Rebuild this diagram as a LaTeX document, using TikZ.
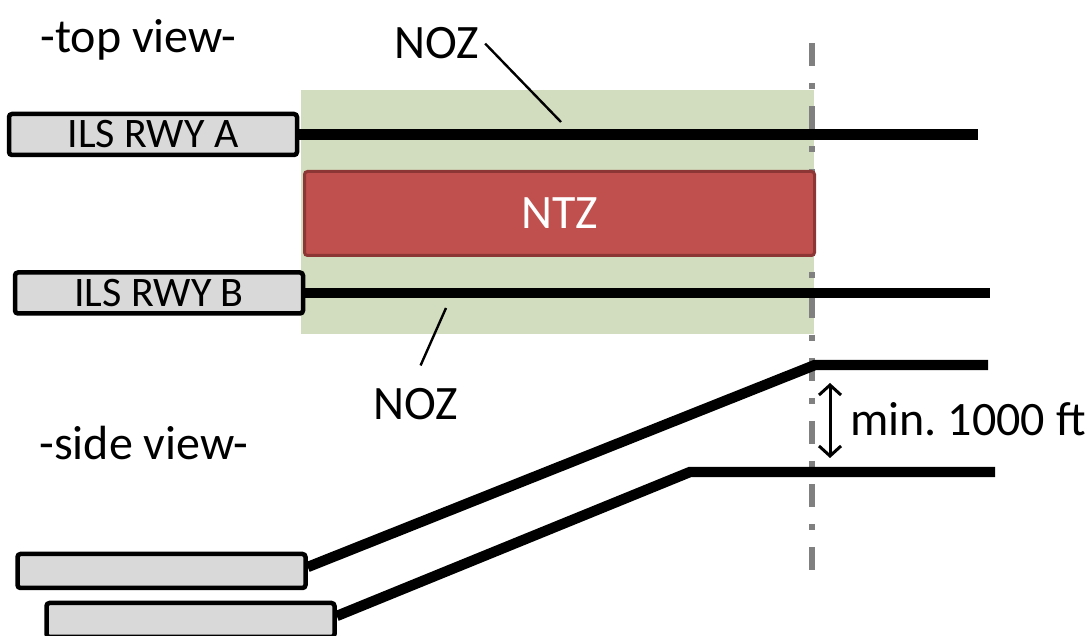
\documentclass[tikz,border=0pt]{standalone}
\usepackage{fontspec}
\setmainfont{Carlito}
\frenchspacing
\usetikzlibrary{arrows.meta,positioning}
\definecolor{cGray}{RGB}{217,217,217}
\definecolor{cNoz}{RGB}{210,220,190}
\definecolor{cNtz}{RGB}{192,80,77}
\definecolor{cNtzLine}{RGB}{140,55,53}
\definecolor{cThr}{RGB}{128,128,128}
\tikzset{
  ilsbox/.style={rectangle,rounded corners=1.5pt,draw=black,line width=2.25pt,
                 fill=cGray,minimum width=144pt,minimum height=20.5pt,
                 inner sep=0pt,font=\fontsize{21}{24}\selectfont},
  sidebox/.style={ilsbox,minimum height=17pt},
  ntzbox/.style={rectangle,rounded corners=1.5pt,draw=cNtzLine,line width=1.5pt,
                 fill=cNtz,minimum width=255pt,minimum height=42pt,
                 text=white,font=\fontsize{24}{28}\selectfont},
  nozarea/.style={rectangle,fill=cNoz,minimum width=256.5pt,
                  minimum height=122pt,inner sep=0pt},
  lbl/.style={inner sep=0pt,anchor=base west,font=\fontsize{24}{28}\selectfont},
  rwy/.style={line width=5.2pt},
  leader/.style={line width=1.2pt},
  thrline/.style={draw=cThr,line width=3pt,
                  dash pattern=on 11.5pt off 8.5pt on 3pt off 8.5pt},
  gaparr/.style={<->,>={Straight Barb[length=5pt,width=11pt]},line width=1.5pt}
}
\begin{document}
\begin{tikzpicture}[x=0.5pt,y=-0.5pt]
  \useasboundingbox (0,0) rectangle (1089,636);
  % top view
  \node[nozarea] (noz) at (557.5,212) {};
  \coordinate (thrTop) at (812,43);
  \coordinate (thrBot) at (812,571);
  \draw[thrline] (thrTop) -- (thrBot);
  \node[ntzbox] (ntz) at (559.5,213.5) {NTZ};
  \node[ilsbox] (ilsA) at (153,134.5) {ILS RWY A};
  \node[ilsbox] (ilsB) at (159,293) {ILS RWY B};
  \coordinate (endA) at (978,134.5);
  \coordinate (endB) at (990,293);
  \draw[rwy] (ilsA.east) -- (endA);
  \draw[rwy] (ilsB.east) -- (endB);

  \node[lbl] (topv) at (40,53) {-top view-};
  \node[lbl] (nozT) at (394,59) {NOZ};
  \node[lbl] (nozB) at (373,420) {NOZ};
  \coordinate (nozTtip) at (561,122);
  \coordinate (nozBtip) at (446,308);
  \draw[leader] ([xshift=3pt]nozT.east) -- (nozTtip);
  \draw[leader] ([shift={(2.5pt,11.5pt)}]nozB.north) -- (nozBtip);

  % side view
  \node[lbl] (sidev) at (39,460) {-side view-};
  \node[sidebox] (sideA) at (161.5,571) {};
  \node[sidebox] (sideB) at (190.5,620) {};
  \coordinate (kinkA) at (815,365);
  \coordinate (endSA) at (988,365);
  \coordinate (kinkB) at (690,472);
  \coordinate (endSB) at (995,472);
  \draw[rwy] ([yshift=2pt]sideA.east) -- (kinkA) -- (endSA);
  \draw[rwy] ([yshift=2pt]sideB.east) -- (kinkB) -- (endSB);

  \coordinate (gapT) at (830,383);
  \coordinate (gapB) at (830,458);
  \draw[gaparr] (gapT) -- (gapB);
  \node[lbl] (minsep) at (850,436) {min. 1000 ft};
\end{tikzpicture}
\end{document}
